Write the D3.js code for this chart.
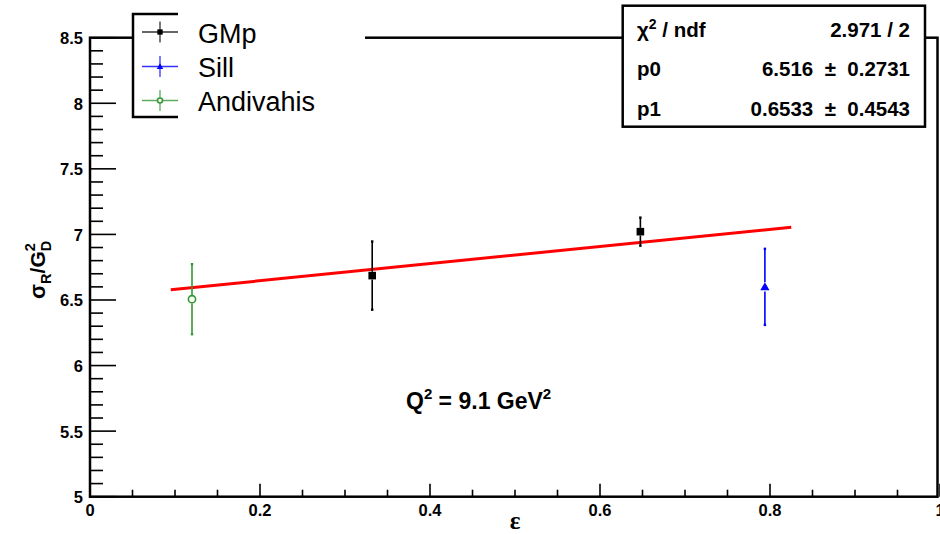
<!DOCTYPE html>
<html>
<head>
<meta charset="utf-8">
<script src="https://cdn.jsdelivr.net/npm/d3@7"></script>
<style>
  html, body { margin: 0; padding: 0; background: #fff; }
  svg { display: block; }
  text { font-family: "Liberation Sans", Arial, Helvetica, sans-serif; }
</style>
</head>
<body>
<svg id="chart" width="940" height="534"></svg>
<script>
// ---- data ----
const xTicks = [0, 0.2, 0.4, 0.6, 0.8, 1];
const xTickLabels = ["0", "0.2", "0.4", "0.6", "0.8", "1"];
const yTicks = [5, 5.5, 6, 6.5, 7, 7.5, 8, 8.5];
const yTickLabels = ["5", "5.5", "6", "6.5", "7", "7.5", "8", "8.5"];

const seriesNames = ["GMp", "Sill", "Andivahis"];
const seriesColors = ["#000000", "#0000ff", "#339933"];
const seriesMarkers = ["square", "triangle", "circle"];

const gmpEps = [0.332, 0.6475];
const gmpVal = [6.686, 7.021];
const gmpErr = [0.26, 0.107];

const sillEps = [0.794];
const sillVal = [6.60];
const sillErr = [0.29];

const andiEps = [0.12];
const andiVal = [6.506];
const andiErr = [0.267];

// linear fit p0 + p1 * eps
const fitP0 = 6.516, fitP1 = 0.6533;
const fitRange = [0.095, 0.825];
const statLabels = ["χ2 / ndf", "p0", "p1"];
const statValues = ["2.971 / 2", "6.516  ±  0.2731", "0.6533  ±  0.4543"];

// ---- layout ----
const svg = d3.select("#chart");
const x = d3.scaleLinear().domain([0, 1]).range([90, 940]);
const y = d3.scaleLinear().domain([5, 8.5]).range([496.7, 37.7]);
const frameRight = 937.5;

// frame
svg.append("rect")
  .attr("x", x(0)).attr("y", y(8.5))
  .attr("width", frameRight - x(0)).attr("height", y(5) - y(8.5))
  .attr("fill", "none").attr("stroke", "#000").attr("stroke-width", 2.5);

// y axis ticks (inward)
const yMinor = d3.range(50, 86).map(v => v / 10);
svg.append("g").selectAll("line").data(yMinor).join("line")
  .attr("x1", x(0)).attr("x2", d => x(0) + (Math.abs(d * 2 - Math.round(d * 2)) < 1e-6 ? 26 : 13))
  .attr("y1", d => y(d)).attr("y2", d => y(d))
  .attr("stroke", "#000").attr("stroke-width", 1.6);

svg.append("g").selectAll("text").data(yTicks).join("text")
  .attr("x", 83).attr("y", d => y(d) + 6.5)
  .attr("text-anchor", "end").attr("font-weight", "bold").attr("font-size", 16.5)
  .text((d, i) => yTickLabels[i]);

// x axis ticks (inward)
const xMinor = d3.range(0, 21).map(v => v * 0.05);
svg.append("g").selectAll("line").data(xMinor).join("line")
  .attr("x1", d => x(d)).attr("x2", d => x(d))
  .attr("y1", y(5)).attr("y2", (d, i) => y(5) - (i % 4 === 0 ? 13 : 7))
  .attr("stroke", "#000").attr("stroke-width", 1.6);

svg.append("g").selectAll("text").data(xTicks).join("text")
  .attr("x", d => x(d)).attr("y", 516)
  .attr("text-anchor", "middle").attr("font-weight", "bold").attr("font-size", 16.5)
  .text((d, i) => xTickLabels[i]);

// x title
svg.append("text").attr("x", 515).attr("y", 528.5)
  .attr("text-anchor", "middle").attr("font-size", 25).attr("font-weight", "bold")
  .style("font-family", "'Liberation Serif', serif")
  .text("ε");

// y title: sigma_R / G_D^2, rotated
(function () {
  const g = svg.append("g").attr("transform", "translate(45,299) rotate(-90)");
  let cx = 0;
  function part(str, size, dy) {
    const t = g.append("text").attr("x", cx).attr("y", dy)
      .attr("font-weight", "bold").attr("font-size", size).text(str);
    const w = t.node().getComputedTextLength();
    return { t, w };
  }
  let p = part("σ", 22, 0); cx += p.w;
  p = part("R", 14.5, 6); cx += p.w;
  p = part("/G", 21, 0); cx += p.w;
  const dStart = cx;
  p = part("D", 14.5, 6); const dw = p.w;
  cx = dStart;
  p = part("2", 14.5, -10);
  cx = dStart + Math.max(dw, p.w);
})();

// fit line
svg.append("line")
  .attr("x1", x(fitRange[0])).attr("y1", y(fitP0 + fitP1 * fitRange[0]))
  .attr("x2", x(fitRange[1])).attr("y2", y(fitP0 + fitP1 * fitRange[1]))
  .attr("stroke", "#ff0000").attr("stroke-width", 3);

// markers
function marker(g, kind, cx, cy, color, k) {
  if (kind === "square") {
    const s = 3.8 * k;
    g.append("rect").attr("x", cx - s).attr("y", cy - s).attr("width", 2 * s).attr("height", 2 * s).attr("fill", color);
  } else if (kind === "triangle") {
    const s = 4.6 * k;
    g.append("path").attr("d", `M${cx},${cy - s} L${cx + s},${cy + s * 0.75} L${cx - s},${cy + s * 0.75} Z`).attr("fill", color);
  } else {
    g.append("circle").attr("cx", cx).attr("cy", cy).attr("r", 3.6 * k)
      .attr("fill", "#fff").attr("stroke", color).attr("stroke-width", 1.6);
  }
}
const markerHalf = { square: 3.8, triangle: 4.6, circle: 4.2 };

function drawSeries(eps, vals, errs, color, kind) {
  const g = svg.append("g");
  eps.forEach((e, i) => {
    const cx = x(e), cy = y(vals[i]);
    const top = y(vals[i] + errs[i]), bot = y(vals[i] - errs[i]);
    const h = markerHalf[kind];
    g.append("line").attr("x1", cx).attr("x2", cx).attr("y1", top).attr("y2", cy - h)
      .attr("stroke", color).attr("stroke-width", 1.6);
    g.append("line").attr("x1", cx).attr("x2", cx).attr("y1", cy + h).attr("y2", bot)
      .attr("stroke", color).attr("stroke-width", 1.6);
    [top, bot].forEach(yy => g.append("rect").attr("x", cx - 1.2).attr("y", yy - 1.2)
      .attr("width", 2.4).attr("height", 2.4).attr("fill", color));
    marker(g, kind, cx, cy, color, 1);
  });
}
drawSeries(andiEps, andiVal, andiErr, seriesColors[2], seriesMarkers[2]);
drawSeries(gmpEps, gmpVal, gmpErr, seriesColors[0], seriesMarkers[0]);
drawSeries(sillEps, sillVal, sillErr, seriesColors[1], seriesMarkers[1]);

// annotation
(function () {
  const t = svg.append("text").attr("x", 406).attr("y", 409)
    .attr("font-weight", "bold").attr("font-size", 23);
  t.append("tspan").text("Q");
  t.append("tspan").attr("font-size", 15).attr("dy", -10).text("2");
  t.append("tspan").attr("dy", 10).text(" = 9.1 GeV");
  t.append("tspan").attr("font-size", 15).attr("dy", -10).text("2");
})();

// legend
const legend = svg.append("g");
legend.append("rect").attr("x", 133).attr("y", 14).attr("width", 232).attr("height", 103).attr("fill", "#fff");
legend.append("path").attr("d", "M178,14 H133 V117 H178").attr("fill", "none").attr("stroke", "#000").attr("stroke-width", 2.5);
const legendY = [32, 66.5, 100.5];
seriesNames.forEach((name, i) => {
  const cy = legendY[i], cx = 160, col = seriesColors[i];
  legend.append("line").attr("x1", 142).attr("x2", 178).attr("y1", cy).attr("y2", cy)
    .attr("stroke", col).attr("stroke-width", 1.3).attr("stroke-opacity", 0.8);
  legend.append("line").attr("x1", cx).attr("x2", cx).attr("y1", cy - 10.5).attr("y2", cy + 10.5)
    .attr("stroke", col).attr("stroke-width", 1.3).attr("stroke-opacity", 0.8);
  marker(legend, seriesMarkers[i], cx, cy, col, 0.7);
  legend.append("text").attr("x", 198).attr("y", cy + 10.8)
    .attr("font-size", 27).text(name);
});

// fit statistics box
const stats = svg.append("g");
stats.append("rect").attr("x", 622.7).attr("y", 5.7).attr("width", 302.3).attr("height", 121)
  .attr("fill", "#fff").attr("stroke", "#000").attr("stroke-width", 2.5);
const statY = [36.5, 76, 116];
statLabels.forEach((lab, i) => {
  const t = stats.append("text").attr("x", 637).attr("y", statY[i])
    .attr("font-weight", "bold").attr("font-size", 20.5);
  if (i === 0) {
    t.append("tspan").text("χ");
    t.append("tspan").attr("font-size", 14).attr("dy", -8).text("2");
    t.append("tspan").attr("dy", 8).text(" / ndf");
  } else {
    t.text(lab);
  }
  stats.append("text").attr("x", 910).attr("y", statY[i])
    .attr("text-anchor", "end").attr("font-weight", "bold").attr("font-size", 20.5)
    .style("white-space", "pre")
    .text(statValues[i]);
});
</script>
</body>
</html>
